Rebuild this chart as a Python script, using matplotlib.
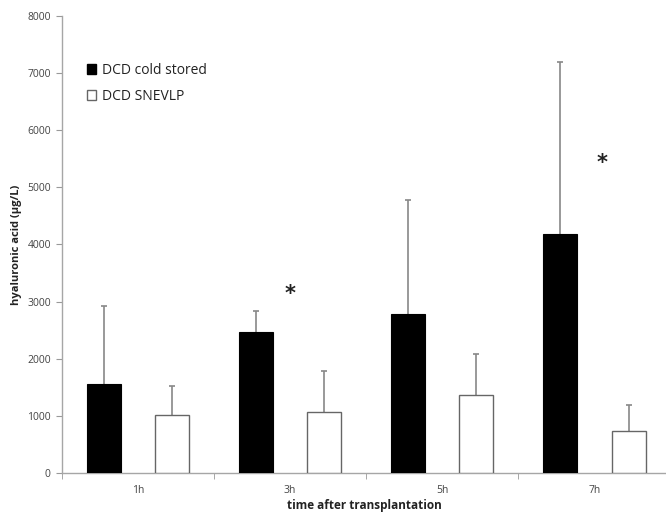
import numpy as np
import matplotlib.pyplot as plt
from matplotlib.patches import Patch

# Data
times = ['1h', '3h', '5h', '7h']
cold_stored = [1550, 2470, 2780, 4190]
cold_stored_err = [1380, 370, 2000, 3000]
snevlp = [1010, 1070, 1370, 740]
snevlp_err = [510, 710, 710, 450]
star_positions = [1, 3]
star_heights = [3130, 5420]

plt.rcParams['font.family'] = ['Open Sans', 'DejaVu Sans']

fig = plt.figure(figsize=(6.66, 5.13), dpi=100)
ax = fig.add_axes([0.093, 0.078, 0.907, 0.891])

x = np.arange(len(times))
w = 0.224
off = 0.224

ax.bar(x - off, cold_stored, width=w, color='black', edgecolor='black', linewidth=0.8, zorder=3)
ax.bar(x + off, snevlp, width=w, color='white', edgecolor='#666666', linewidth=1.0, zorder=3)

# upper error bars only, hide the lower caps
for pos, vals, errs in [(x - off, cold_stored, cold_stored_err), (x + off, snevlp, snevlp_err)]:
    eb = ax.errorbar(pos, vals, yerr=[np.zeros(4), errs], fmt='none',
                     ecolor='#888888', elinewidth=1.2, capsize=2.5, capthick=1.2, zorder=2)
    eb[1][0].set_visible(False)

for sx, sy in zip(star_positions, star_heights):
    ax.text(sx + 0.05 * (sx == 3), sy, '*', ha='center', va='center', fontsize=15,
            fontweight='bold', color='#222222', family='DejaVu Sans')

ax.set_xlim(-0.5, 3.47)
ax.set_ylim(0, 8000)
ax.set_yticks(np.arange(0, 8001, 1000))
ax.set_xticks(x)
ax.set_xticklabels(times)
ax.set_xticks(np.arange(-0.5, 3.5, 1), minor=True)
ax.tick_params(axis='x', which='major', length=0, pad=9, labelsize=7.5, labelcolor='#444444')
ax.tick_params(axis='x', which='minor', length=4, color='#999999', direction='out')
ax.tick_params(axis='y', length=4, color='#999999', labelsize=7.5, labelcolor='#444444', pad=4)

for s in ['top', 'right']:
    ax.spines[s].set_visible(False)
for s in ['left', 'bottom']:
    ax.spines[s].set_color('#a6a6a6')
    ax.spines[s].set_linewidth(1.0)

ax.set_ylabel('hyaluronic acid (µg/L)', fontsize=8, fontweight='bold', color='#222222', labelpad=4)
ax.set_xlabel('time after transplantation', fontsize=8.5, fontweight='bold', color='#222222', labelpad=1.5)

handles = [Patch(facecolor='black', edgecolor='black'),
           Patch(facecolor='white', edgecolor='#666666')]
ax.legend(handles, ['DCD cold stored', 'DCD SNEVLP'], loc='upper left',
          bbox_to_anchor=(0.02, 0.925), frameon=False, fontsize=10,
          handlelength=0.7, handleheight=0.7, handletextpad=0.4, labelspacing=0.8,
          labelcolor='#222222')

fig.savefig('out.png', dpi=100)
